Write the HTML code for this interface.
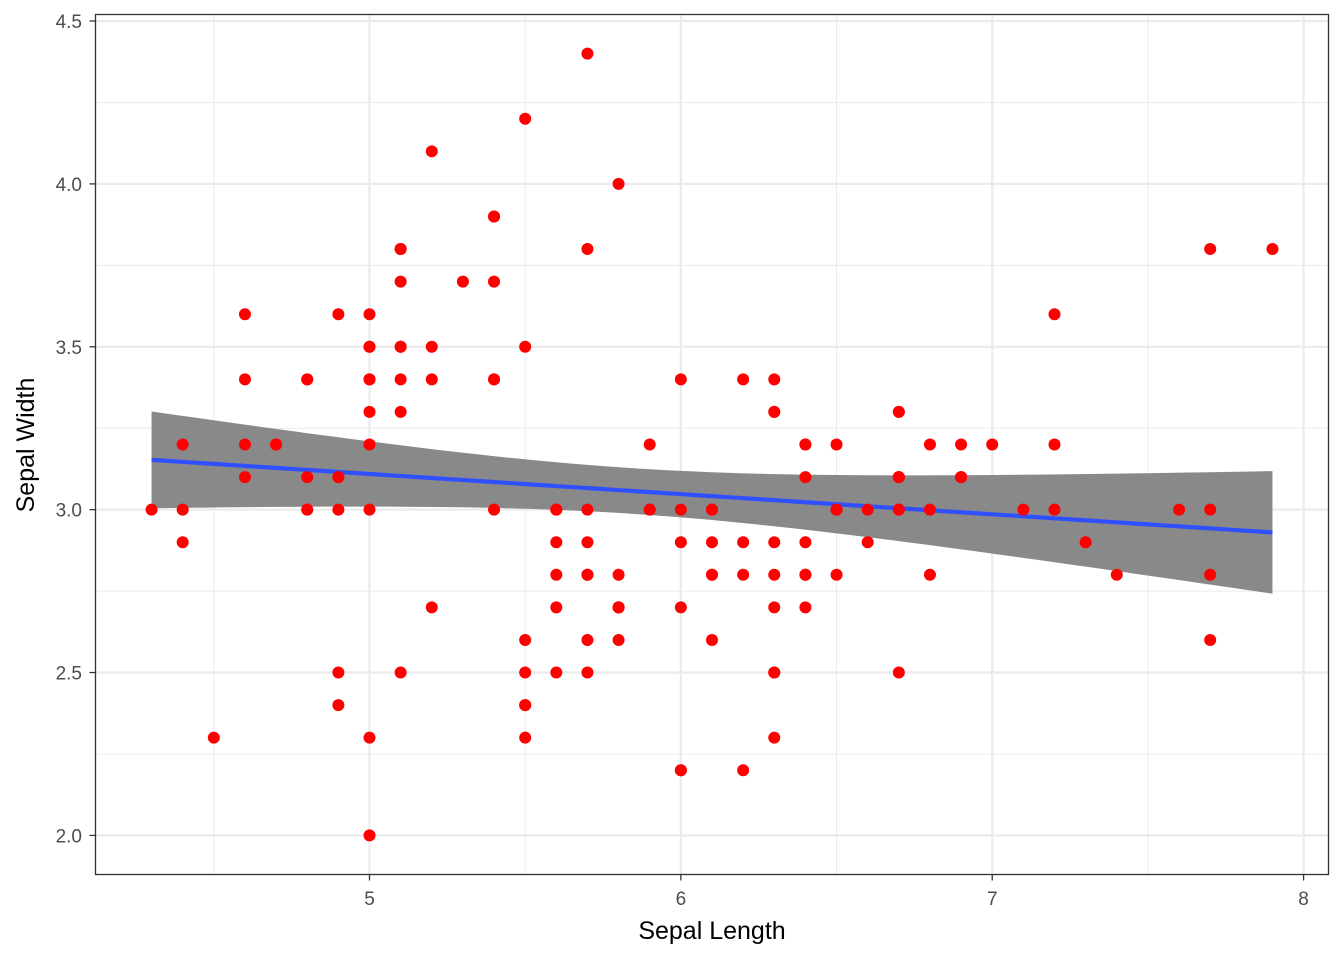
<!DOCTYPE html>
<html><head><meta charset="utf-8"><style>
html,body{margin:0;padding:0;background:#fff;}
svg{display:block;font-family:"Liberation Sans",Arial,sans-serif;}
</style></head><body>
<svg id="chart" width="1344" height="960" viewBox="0 0 1344 960" xmlns="http://www.w3.org/2000/svg">
<rect x="0" y="0" width="1344" height="960" fill="#fff"/>
<g id="grid"></g>
<g id="band"></g>
<g id="line"></g>
<g id="points"></g>
<rect x="95.5" y="14.5" width="1233" height="860" fill="none" stroke="#333" stroke-width="1.3"/>
<g id="axes"></g>
<text x="712" y="939" text-anchor="middle" font-size="25" fill="#000">Sepal Length</text>
<text x="0" y="0" transform="translate(34,445) rotate(-90)" text-anchor="middle" font-size="25" fill="#000">Sepal Width</text>
</svg>
<script>
const sepalLength = [5.1,4.9,4.7,4.6,5.0,5.4,4.6,5.0,4.4,4.9,5.4,4.8,4.8,4.3,5.8,5.7,5.4,5.1,5.7,5.1,5.4,5.1,4.6,5.1,4.8,5.0,5.0,5.2,5.2,4.7,4.8,5.4,5.2,5.5,4.9,5.0,5.5,4.9,4.4,5.1,5.0,4.5,4.4,5.0,5.1,4.8,5.1,4.6,5.3,5.0,
7.0,6.4,6.9,5.5,6.5,5.7,6.3,4.9,6.6,5.2,5.0,5.9,6.0,6.1,5.6,6.7,5.6,5.8,6.2,5.6,5.9,6.1,6.3,6.1,6.4,6.6,6.8,6.7,6.0,5.7,5.5,5.5,5.8,6.0,5.4,6.0,6.7,6.3,5.6,5.5,5.5,6.1,5.8,5.0,5.6,5.7,5.7,6.2,5.1,5.7,
6.3,5.8,7.1,6.3,6.5,7.6,4.9,7.3,6.7,7.2,6.5,6.4,6.8,5.7,5.8,6.4,6.5,7.7,7.7,6.0,6.9,5.6,7.7,6.3,6.7,7.2,6.2,6.1,6.4,7.2,7.4,7.9,6.4,6.3,6.1,7.7,6.3,6.4,6.0,6.9,6.7,6.9,5.8,6.8,6.7,6.7,6.3,6.5,6.2,5.9];
const sepalWidth = [3.5,3.0,3.2,3.1,3.6,3.9,3.4,3.4,2.9,3.1,3.7,3.4,3.0,3.0,4.0,4.4,3.9,3.5,3.8,3.8,3.4,3.7,3.6,3.3,3.4,3.0,3.4,3.5,3.4,3.2,3.1,3.4,4.1,4.2,3.1,3.2,3.5,3.6,3.0,3.4,3.5,2.3,3.2,3.5,3.8,3.0,3.8,3.2,3.7,3.3,
3.2,3.2,3.1,2.3,2.8,2.8,3.3,2.4,2.9,2.7,2.0,3.0,2.2,2.9,2.9,3.1,3.0,2.7,2.2,2.5,3.2,2.8,2.5,2.8,2.9,3.0,2.8,3.0,2.9,2.6,2.4,2.4,2.7,2.7,3.0,3.4,3.1,2.3,3.0,2.5,2.6,3.0,2.6,2.3,2.7,3.0,2.9,2.9,2.5,2.8,
3.3,2.7,3.0,2.9,3.0,3.0,2.5,2.9,2.5,3.6,3.2,2.7,3.0,2.5,2.8,3.2,3.0,3.8,2.6,2.2,3.2,2.8,2.8,2.7,3.3,3.2,2.8,3.0,2.8,3.0,2.8,3.8,2.8,2.8,2.6,3.0,3.4,3.1,3.0,3.1,3.1,3.1,2.7,3.2,3.3,3.0,2.5,3.0,3.4,3.0];
const xTicks = [5,6,7,8];
const xTickLabels = ["5","6","7","8"];
const xMinor = [4.5,5.5,6.5,7.5];
const yTicks = [2.0,2.5,3.0,3.5,4.0,4.5];
const yTickLabels = ["2.0","2.5","3.0","3.5","4.0","4.5"];
const yMinor = [2.25,2.75,3.25,3.75,4.25];

const NS="http://www.w3.org/2000/svg";
const X0=95.5,X1=1328.5,Y0=14.5,Y1=874.5;
const xmin=Math.min(...sepalLength),xmax=Math.max(...sepalLength);
const ymin=Math.min(...sepalWidth),ymax=Math.max(...sepalWidth);
const xlo=xmin-0.05*(xmax-xmin),xhi=xmax+0.05*(xmax-xmin);
const ylo=ymin-0.05*(ymax-ymin),yhi=ymax+0.05*(ymax-ymin);
const sx=v=>X0+(v-xlo)/(xhi-xlo)*(X1-X0);
const sy=v=>Y1-(v-ylo)/(yhi-ylo)*(Y1-Y0);
function mk(tag,attrs,parent){const e=document.createElementNS(NS,tag);for(const k in attrs)e.setAttribute(k,attrs[k]);parent.appendChild(e);return e;}
const grid=document.getElementById('grid');
xMinor.forEach(v=>{const l=mk('line',{x1:sx(v),x2:sx(v),y1:Y0,y2:Y1,stroke:'#ebebeb','stroke-width':1},grid);

});
yMinor.forEach(v=>{const l=mk('line',{x1:X0,x2:X1,y1:sy(v),y2:sy(v),stroke:'#ebebeb','stroke-width':1},grid);

});
xTicks.forEach(v=>{const l=mk('line',{x1:sx(v),x2:sx(v),y1:Y0,y2:Y1,stroke:'#ebebeb','stroke-width':2.2},grid);

});
yTicks.forEach(v=>{const l=mk('line',{x1:X0,x2:X1,y1:sy(v),y2:sy(v),stroke:'#ebebeb','stroke-width':2.2},grid);

});
const n=sepalLength.length;
const mx=sepalLength.reduce((a,b)=>a+b,0)/n,my=sepalWidth.reduce((a,b)=>a+b,0)/n;
let sxx=0,sxy=0;for(let i=0;i<n;i++){sxx+=(sepalLength[i]-mx)**2;sxy+=(sepalLength[i]-mx)*(sepalWidth[i]-my);}
const b=sxy/sxx,a=my-b*mx;
let sse=0;for(let i=0;i<n;i++){sse+=(sepalWidth[i]-a-b*sepalLength[i])**2;}
const sig=Math.sqrt(sse/(n-2)),t=1.976;
const up=[],lo=[],ln=[];
for(let k=0;k<=80;k++){const x=xmin+(xmax-xmin)*k/80;const f=a+b*x;const se=sig*Math.sqrt(1/n+(x-mx)**2/sxx);
up.push(sx(x)+','+sy(f+t*se));lo.unshift(sx(x)+','+sy(f-t*se));ln.push(sx(x)+','+sy(f));}
const band=mk('polygon',{points:up.concat(lo).join(' '),fill:'#898989'},document.getElementById('band'));


const line=mk('polyline',{points:ln.join(' '),fill:'none',stroke:'#3050ff','stroke-width':4.2},document.getElementById('line'));


const pts=document.getElementById('points');
for(let i=0;i<n;i++){const c=mk('circle',{cx:sx(sepalLength[i]),cy:sy(sepalWidth[i]),r:6,fill:'#ff0000'},pts);

}
const axes=document.getElementById('axes');
xTicks.forEach((v,i)=>{const l=mk('line',{x1:sx(v),x2:sx(v),y1:Y1,y2:Y1+6,stroke:'#333','stroke-width':1.3},axes);


const tx=mk('text',{x:sx(v),y:905,'text-anchor':'middle','font-size':19,fill:'#4d4d4d'},axes);tx.textContent=xTickLabels[i];

});
yTicks.forEach((v,i)=>{const l=mk('line',{x1:X0-6,x2:X0,y1:sy(v),y2:sy(v),stroke:'#333','stroke-width':1.3},axes);


const tx=mk('text',{x:82,y:sy(v)+7,'text-anchor':'end','font-size':19,fill:'#4d4d4d'},axes);tx.textContent=yTickLabels[i];

});
</script>
</body></html>
